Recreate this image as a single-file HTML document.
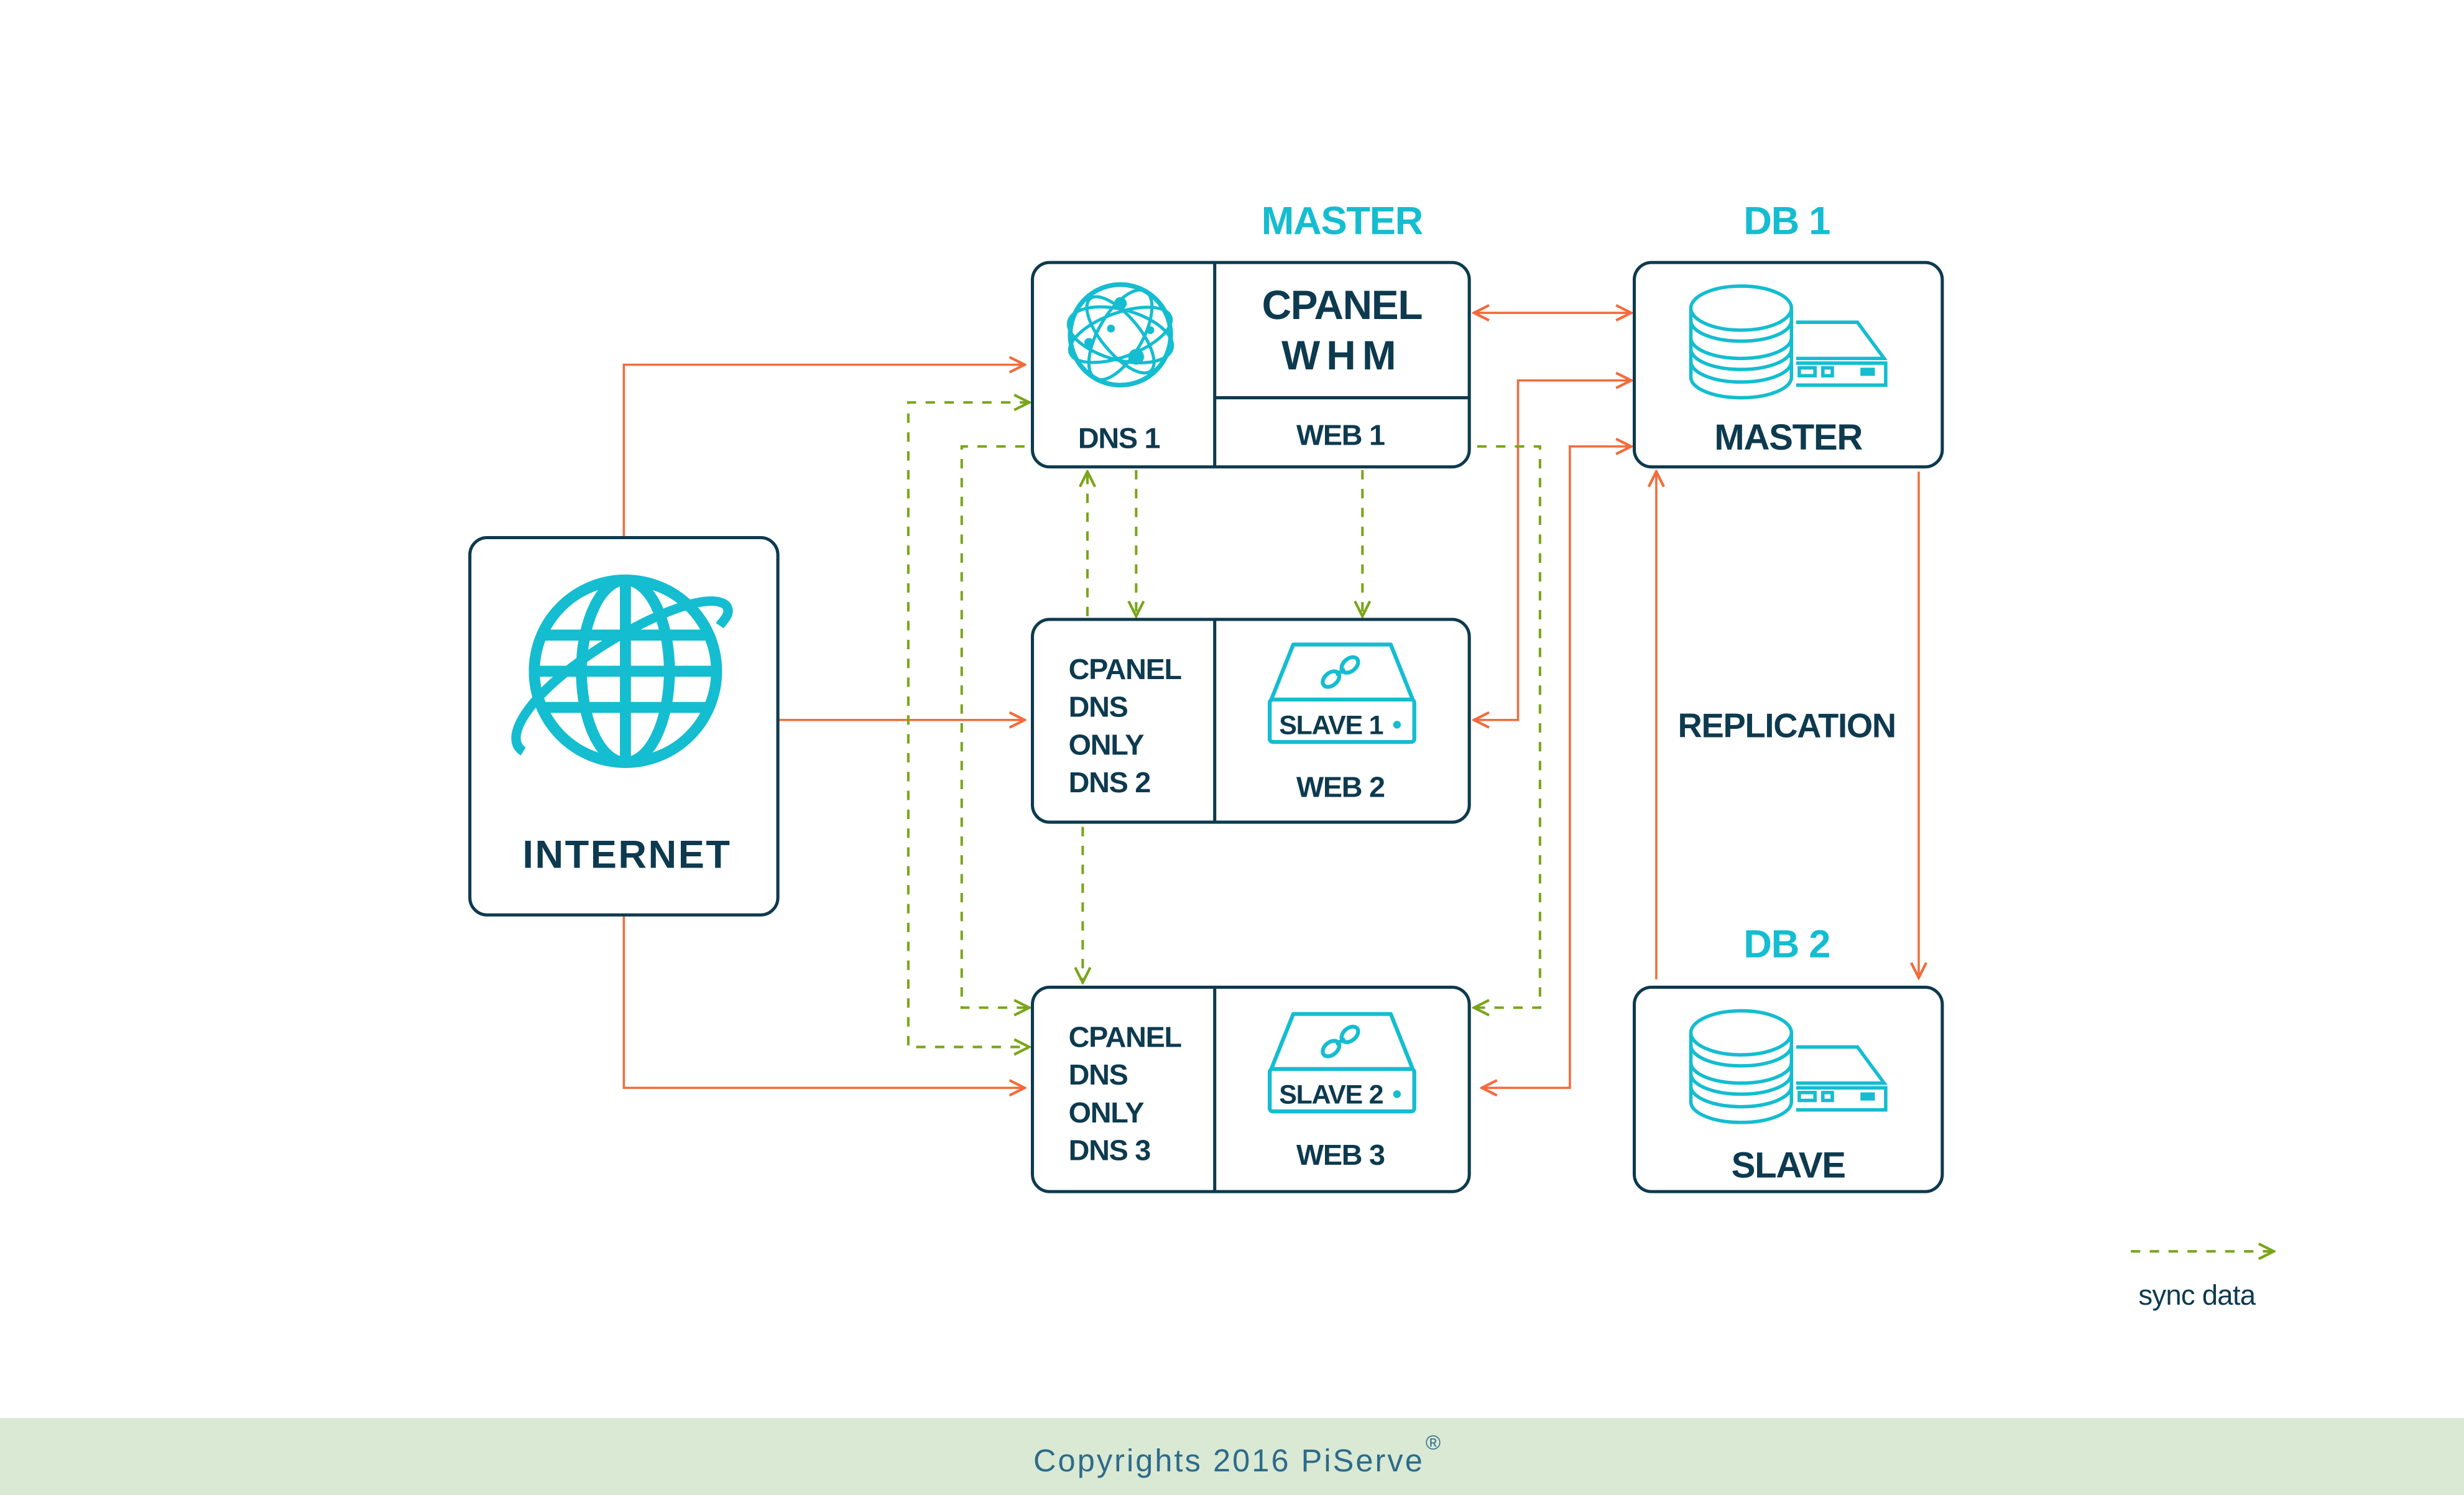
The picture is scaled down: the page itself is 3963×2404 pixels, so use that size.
<!DOCTYPE html>
<html><head><meta charset="utf-8"><style>
html,body{margin:0;padding:0;background:#fff;}
svg{display:block;}
text{font-family:"Liberation Sans Narrow","Liberation Sans",sans-serif;}
</style></head><body>
<svg width="3963" height="2404" viewBox="0 0 1568 951" preserveAspectRatio="none" xmlns="http://www.w3.org/2000/svg">
<defs>
<marker id="ao" viewBox="0 0 10 10" refX="9" refY="5" markerWidth="12" markerHeight="12" markerUnits="userSpaceOnUse" orient="auto-start-reverse"><path d="M1,1 L9,5 L1,9" fill="none" stroke="#f36b3b" stroke-width="1.4"/></marker>
<marker id="ag" viewBox="0 0 10 10" refX="9" refY="5" markerWidth="12" markerHeight="12" markerUnits="userSpaceOnUse" orient="auto-start-reverse"><path d="M1,1 L9,5 L1,9" fill="none" stroke="#7aa51a" stroke-width="1.4"/></marker>
</defs>
<rect width="1568" height="951" fill="#fff"/>
<rect x="0" y="902" width="1568" height="49" fill="#d9e9d4"/>
<text x="782" y="936" text-anchor="middle" font-size="20" fill="#2f6b8a" letter-spacing="1.2" style="font-family:'Liberation Sans',sans-serif">Copyrights 2016 PiServe</text>
<text x="912" y="922" text-anchor="middle" font-size="13" fill="#2f6b8a" style="font-family:'Liberation Sans',sans-serif">®</text>

<g fill="none" stroke="#f36b3b" stroke-width="1.4">
<path d="M397,342 V232 H652" marker-end="url(#ao)"/>
<path d="M495,458 H652" marker-end="url(#ao)"/>
<path d="M397,582 V692 H652" marker-end="url(#ao)"/>
<path d="M938,199 H1038" marker-start="url(#ao)" marker-end="url(#ao)"/>
<path d="M938,458 H966 V242 H1038" marker-start="url(#ao)" marker-end="url(#ao)"/>
<path d="M943,692 H999 V284 H1038" marker-start="url(#ao)" marker-end="url(#ao)"/>
<path d="M1054,623 V300" marker-end="url(#ao)"/>
<path d="M1221,300 V622" marker-end="url(#ao)"/>
</g>
<g fill="none" stroke="#7aa51a" stroke-width="1.6" stroke-dasharray="6,6">
<path d="M655,256 H578 V666 H655" marker-start="url(#ag)" marker-end="url(#ag)"/>
<path d="M652,284 H612 V641 H655" marker-end="url(#ag)"/>
<path d="M692,392 V300" marker-end="url(#ag)"/>
<path d="M723,299 V392" marker-end="url(#ag)"/>
<path d="M867,299 V392" marker-end="url(#ag)"/>
<path d="M689,526 V625" marker-end="url(#ag)"/>
<path d="M940,284 H980 V641 H938" marker-end="url(#ag)"/>
<path d="M1356,796 H1447" marker-end="url(#ag)"/>
</g>
<text x="1398" y="830" text-anchor="middle" font-size="18" fill="#0d3a4f" letter-spacing="-0.3">sync data</text>

<g fill="none" stroke="#0d3a4f" stroke-width="2">
<rect x="299" y="342" width="196" height="240" rx="11"/>
<rect x="657" y="167" width="278" height="130" rx="11"/>
<line x1="773" y1="167" x2="773" y2="297"/><line x1="773" y1="253" x2="935" y2="253"/>
<rect x="657" y="394" width="278" height="129" rx="11"/>
<line x1="773" y1="394" x2="773" y2="523"/>
<rect x="657" y="628" width="278" height="130" rx="11"/>
<line x1="773" y1="628" x2="773" y2="758"/>
<rect x="1040" y="167" width="196" height="130" rx="11"/>
<rect x="1040" y="628" width="196" height="130" rx="11"/>
</g>

<g fill="#14bdd0" font-weight="bold" letter-spacing="-0.5">
<text x="854" y="149" text-anchor="middle" font-size="25">MASTER</text>
<text x="1137" y="149" text-anchor="middle" font-size="25">DB 1</text>
<text x="1137" y="609" text-anchor="middle" font-size="25">DB 2</text>
</g>
<g fill="#0d3a4f" font-weight="bold" letter-spacing="-0.5">
<text x="854" y="203" text-anchor="middle" font-size="26">CPANEL</text>
<text x="854" y="235" text-anchor="middle" font-size="26" letter-spacing="4">WHM</text>
<text x="712" y="285" text-anchor="middle" font-size="18.5">DNS 1</text>
<text x="853" y="283" text-anchor="middle" font-size="18.5">WEB 1</text>
<text x="680" y="432" font-size="18.5">CPANEL</text>
<text x="680" y="456" font-size="18.5">DNS</text>
<text x="680" y="480" font-size="18.5">ONLY</text>
<text x="680" y="504" font-size="18.5">DNS 2</text>
<text x="853" y="507" text-anchor="middle" font-size="18.5">WEB 2</text>
<text x="680" y="666" font-size="18.5">CPANEL</text>
<text x="680" y="690" font-size="18.5">DNS</text>
<text x="680" y="714" font-size="18.5">ONLY</text>
<text x="680" y="738" font-size="18.5">DNS 3</text>
<text x="853" y="741" text-anchor="middle" font-size="18.5">WEB 3</text>
<text x="399" y="552" text-anchor="middle" font-size="25" letter-spacing="1" style="font-family:'Liberation Sans',sans-serif">INTERNET</text>
<text x="1138" y="286" text-anchor="middle" font-size="23">MASTER</text>
<text x="1138" y="749" text-anchor="middle" font-size="23">SLAVE</text>
<text x="1137" y="469" text-anchor="middle" font-size="21.5">REPLICATION</text>
</g>

<g fill="none" stroke="#14bdd0" stroke-width="7">
<ellipse cx="398" cy="427" rx="58" ry="58"/>
<ellipse cx="398" cy="427" rx="28" ry="58"/>
<line x1="398" y1="369" x2="398" y2="485"/>
<line x1="345" y1="404" x2="451" y2="404"/>
<line x1="340" y1="427" x2="456" y2="427"/>
<line x1="345" y1="450" x2="451" y2="450"/>
<path d="M333,478 C320,470 335,445 370,420 C405,395 450,375 462,385 C466,390 460,395 458,398" stroke-width="6"/>
</g>
<g fill="none" stroke="#14bdd0" stroke-width="2">
<circle cx="713" cy="213" r="32" stroke-width="3"/>
<ellipse cx="713" cy="213" rx="34" ry="16" transform="rotate(15 713 213)"/>
<ellipse cx="713" cy="213" rx="34" ry="14" transform="rotate(-20 713 213)"/>
<ellipse cx="713" cy="213" rx="32" ry="14" transform="rotate(-60 713 213)"/>
<ellipse cx="713" cy="213" rx="30" ry="12" transform="rotate(50 713 213)"/>
</g>
<g fill="#14bdd0"><circle cx="713" cy="193" r="4"/><circle cx="723" cy="227" r="5"/><circle cx="707" cy="209" r="2.5"/><circle cx="693" cy="218" r="3"/><circle cx="732" cy="210" r="2.5"/></g>

<g id="db" fill="none" stroke="#14bdd0" stroke-width="2.2">
<path d="M1076,196 V240 A32,13 0 0 0 1140,240 V196"/>
<ellipse cx="1108" cy="196" rx="32" ry="14" fill="#fff"/>
<path d="M1076,204 A32,13 0 0 0 1140,204"/>
<path d="M1076,215 A32,13 0 0 0 1140,215"/>
<path d="M1076,222 A32,13 0 0 0 1140,222"/>
<path d="M1076,230 A32,13 0 0 0 1140,230"/>
<path d="M1143,205 H1182 L1199,228 H1143"/>
<path d="M1143,231 H1200 V245 H1143"/>
<rect x="1145" y="234" width="10" height="5"/><rect x="1160" y="234" width="6" height="5"/>
<rect x="1185" y="235" width="7" height="3" fill="#14bdd0"/>
</g>
<use href="#db" transform="translate(0,461)"/>

<g id="sl" fill="none" stroke="#14bdd0" stroke-width="2.5" stroke-linejoin="round">
<path d="M809,445 L823,410 H885 L899,445"/>
<rect x="808" y="445" width="92" height="27" rx="2"/>
<ellipse cx="847" cy="432" rx="6" ry="4" transform="rotate(-40 847 432)"/>
<ellipse cx="859" cy="423" rx="6" ry="4" transform="rotate(-40 859 423)"/>
<line x1="850" y1="429" x2="856" y2="426"/>
<circle cx="889" cy="461" r="1.2" fill="#14bdd0"/>
</g>
<use href="#sl" transform="translate(0,235)"/>
<text x="847" y="467" text-anchor="middle" font-size="17" fill="#0d3a4f" font-weight="bold" letter-spacing="-0.5">SLAVE 1</text>
<text x="847" y="702" text-anchor="middle" font-size="17" fill="#0d3a4f" font-weight="bold" letter-spacing="-0.5">SLAVE 2</text>
</svg>
</body></html>
